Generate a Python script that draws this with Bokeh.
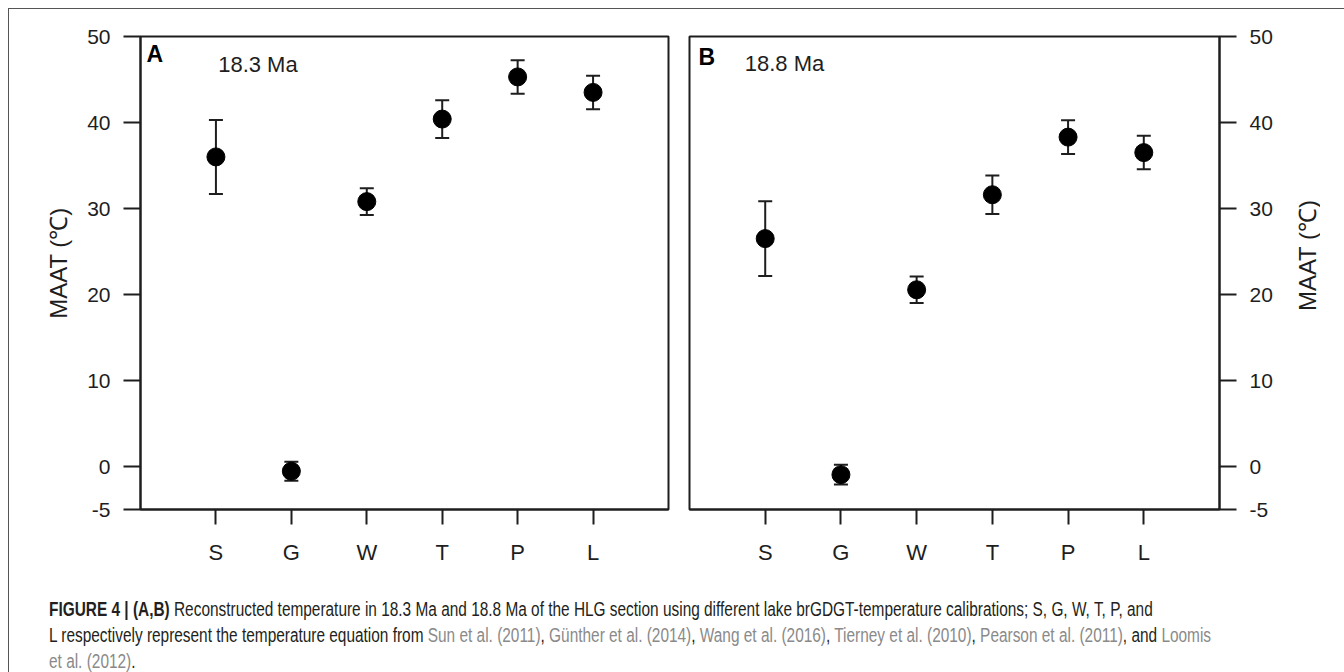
from bokeh.plotting import figure
from bokeh.models import (ColumnDataSource, Whisker, TeeHead, FixedTicker,
                          Range1d, Label, Div)
from bokeh.layouts import row, column
from bokeh.embed import file_html
from bokeh.resources import INLINE

# ---------------- data ----------------
categories = ["S", "G", "W", "T", "P", "L"]
maat_a = [36.0, -0.55, 30.8, 40.4, 45.3, 43.5]     # 18.3 Ma
err_a = [4.3, 1.1, 1.55, 2.2, 1.95, 1.95]
maat_b = [26.5, -0.95, 20.55, 31.6, 38.3, 36.5]    # 18.8 Ma
err_b = [4.35, 1.15, 1.55, 2.25, 1.95, 1.95]
y_ticks = [-5, 0, 10, 20, 30, 40, 50]
y_tick_labels = ["-5", "0", "10", "20", "30", "40", "50"]
panel_letters = ["A", "B"]
panel_ages = ["18.3 Ma", "18.8 Ma"]
y_label = "MAAT (\u2103)"

FONT = "'Liberation Sans', Arial, sans-serif"
INK = "#1e1e1e"
PAD = "\u00a0\u00a0\u00a0"


def make_panel(values, errors, letter, age, side, letter_pos, age_pos,
               width, height, borders, with_title):
    xs = [i + 1 for i in range(len(categories))]
    src = ColumnDataSource(dict(
        x=xs, y=values,
        upper=[v + e for v, e in zip(values, errors)],
        lower=[v - e for v, e in zip(values, errors)]))
    p = figure(width=width, height=height, output_backend="svg",
               toolbar_location=None, tools="",
               x_range=Range1d(0, len(categories) + 1),
               y_range=Range1d(-5, 50), y_axis_location=side,
               min_border_left=borders[0], min_border_right=borders[1],
               min_border_top=borders[2], min_border_bottom=borders[3])
    p.grid.visible = False
    p.background_fill_color = "white"
    p.border_fill_color = "white"
    p.outline_line_color = INK
    p.outline_line_width = 2

    p.add_layout(Whisker(source=src, base="x", upper="upper", lower="lower",
                         dimension="height", line_color=INK, line_width=2,
                         upper_head=TeeHead(size=14, line_color=INK, line_width=2),
                         lower_head=TeeHead(size=14, line_color=INK, line_width=2)))
    p.scatter("x", "y", source=src, marker="circle", size=18,
              fill_color="black", line_color="black")

    xa = p.xaxis[0]
    xa.ticker = FixedTicker(ticks=xs)
    xa.major_label_overrides = {x: c for x, c in zip(xs, categories)}
    xa.major_tick_out = 15
    xa.major_tick_in = 0
    xa.minor_tick_out = 0
    xa.minor_tick_in = 0
    xa.axis_line_color = INK
    xa.axis_line_width = 2
    xa.major_tick_line_color = INK
    xa.major_tick_line_width = 2
    xa.major_label_text_font = FONT
    xa.major_label_text_font_size = "22px"
    xa.major_label_text_color = INK
    xa.major_label_standoff = 15

    ya = p.yaxis[0]
    ya.ticker = FixedTicker(ticks=y_ticks)
    ya.major_label_overrides = {t: s for t, s in zip(y_ticks, y_tick_labels)}
    ya.major_tick_out = 17
    ya.major_tick_in = 0
    ya.minor_tick_out = 0
    ya.minor_tick_in = 0
    ya.axis_line_color = INK
    ya.axis_line_width = 2
    ya.major_tick_line_color = INK
    ya.major_tick_line_width = 2
    ya.major_label_text_font = FONT
    ya.major_label_text_font_size = "21px"
    ya.major_label_text_color = INK
    ya.major_label_standoff = 13
    if with_title:
        ya.axis_label = PAD + y_label
        ya.axis_label_text_font = FONT
        ya.axis_label_text_font_size = "24px"
        ya.axis_label_text_font_style = "normal"
        ya.axis_label_text_color = INK
        ya.axis_label_standoff = 12

    p.add_layout(Label(x=letter_pos[0], y=letter_pos[1], text=letter,
                       text_font=FONT, text_font_size="23px",
                       text_font_style="bold", text_color="black",
                       text_baseline="alphabetic"))
    p.add_layout(Label(x=age_pos[0], y=age_pos[1], text=age,
                       text_font=FONT, text_font_size="22px",
                       text_color=INK, text_baseline="alphabetic"))
    return p


pA = make_panel(maat_a, err_a, panel_letters[0], panel_ages[0], "left",
                (0.08, 47.95), (1.03, 46.73), 661, 562, (131, 2, 26, 62), True)
pB = make_panel(maat_b, err_b, panel_letters[1], panel_ages[1], "right",
                (0.12, 47.61), (0.73, 46.85), 619, 562, (19, 70, 27, 62), False)

# right-hand axis title (reads bottom-to-top, like the left one)
right_title = Div(
    text=('<div style="height:484px; overflow:hidden; display:flex; flex-direction:column; '
          'justify-content:center; padding-left:2px; box-sizing:border-box;">'
          '<span style="writing-mode:vertical-rl; text-orientation:sideways; '
          'transform:rotate(180deg); '
          'font-family:\'Liberation Sans\', Arial, sans-serif; font-size:24px; '
          'line-height:24px; color:%s; white-space:nowrap;">%s</span></div>')
    % (INK, y_label),
    width=40, height=562, styles={"overflow": "hidden"})

BLACK = "#231f20"
GRAY = "#8a8a8a"


def ref(t):
    return '<span style="color:%s">%s</span>' % (GRAY, t)


line1 = ('<b>FIGURE 4 | (A,B)</b> Reconstructed temperature in 18.3 Ma and 18.8 Ma '
         'of the HLG section using different lake brGDGT-temperature calibrations; '
         'S, G, W, T, P, and')
line2 = ('L respectively represent the temperature equation from ' + ref('Sun et al. (2011)')
         + ', ' + ref('Günther et al. (2014)') + ', ' + ref('Wang et al. (2016)') + ', '
         + ref('Tierney et al. (2010)') + ', ' + ref('Pearson et al. (2011)') + ', and '
         + ref('Loomis'))
line3 = ref('et al. (2012)') + '.'

html = ('<div style="padding-top:20px; padding-left:35px;">'
        '<div style="font-family: \'Liberation Sans\', Arial, sans-serif; font-size:19.5px; '
        'line-height:26px; color:%s; white-space:nowrap; '
        'transform:scaleX(0.79); transform-origin:0 0;">%s<br>%s<br>%s</div></div>'
        ) % (BLACK, line1, line2, line3)

caption = Div(text=html, width=1330, height=100, styles={"overflow": "hidden"})

layout = column(row(pA, pB, right_title, height=562), caption,
                styles={"border-top": "1px solid #555", "border-left": "1px solid #555",
                        "margin-left": "8px", "margin-top": "8px"})

open("out.html", "w").write(file_html(layout, INLINE))
